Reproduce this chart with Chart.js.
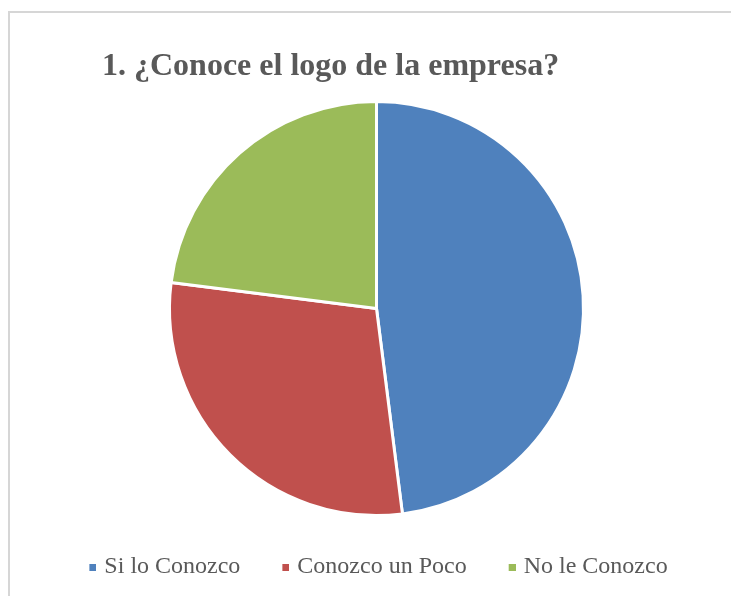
<!DOCTYPE html>
<html lang="es">
<head>
<meta charset="utf-8">
<title>¿Conoce el logo de la empresa?</title>
<script src="https://cdn.jsdelivr.net/npm/chart.js@4/dist/chart.umd.min.js"></script>
<style>
  html, body { margin: 0; padding: 0; background: #ffffff; }
  body { width: 731px; height: 596px; position: relative; overflow: hidden; }
  #frame {
    position: absolute; left: 8px; top: 11px; width: 760px; height: 620px;
    border-left: 2px solid #d6d6d6; border-top: 2px solid #d6d6d6;
  }
  #title {
    position: absolute; left: 102px; top: 48px; margin: 0;
    font: bold 32px/32px "Liberation Serif", "Times New Roman", serif;
    color: #595959; white-space: nowrap;
  }
  #chart { position: absolute; left: 0; top: 0; }
</style>
</head>
<body>
<div id="frame"></div>
<canvas id="chart" width="731" height="596"></canvas>
<h1 id="title">1. ¿Conoce el logo de la empresa?</h1>
<script>
// Survey answers (percent of respondents)
const categories = ['Si lo Conozco', 'Conozco un Poco', 'No le Conozco'];
const shares = [48, 29, 23];
const sliceColors = ['#4F81BD', '#C0504D', '#9BBB59'];

const serif = '"Liberation Serif", "Times New Roman", serif';

// Small square legend marker, drawn on the right side of a wider
// transparent canvas so the square sits close to its label.
function squareMarker(color) {
  const c = document.createElement('canvas');
  c.width = 15;
  c.height = 7;
  const g = c.getContext('2d');
  g.fillStyle = color;
  g.fillRect(8, 0, 7, 7);
  return c;
}
const markers = sliceColors.map(squareMarker);

new Chart(document.getElementById('chart'), {
  type: 'pie',
  data: {
    labels: categories,
    datasets: [{
      data: shares,
      backgroundColor: sliceColors,
      borderColor: '#ffffff',
      borderWidth: 3
    }]
  },
  options: {
    responsive: false,
    animation: false,
    devicePixelRatio: 1,
    layout: { padding: { top: 100, left: 22, right: 0, bottom: 7 } },
    plugins: {
      title: { display: false },
      tooltip: { enabled: false },
      legend: {
        position: 'bottom',
        labels: {
          usePointStyle: true,
          boxWidth: 7,
          boxHeight: 7,
          padding: 38,
          color: '#595959',
          font: { family: serif, size: 24 },
          generateLabels: (chart) =>
            Chart.overrides.pie.plugins.legend.labels.generateLabels(chart)
              .map((item, i) => Object.assign(item, { lineWidth: 0, pointStyle: markers[i] }))
        }
      }
    }
  }
});
</script>
</body>
</html>
